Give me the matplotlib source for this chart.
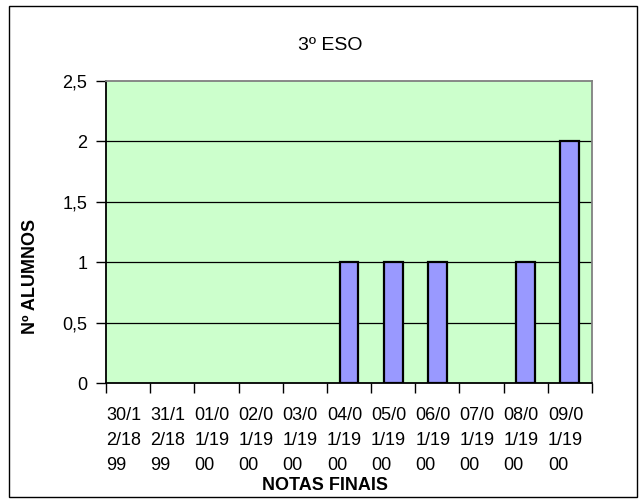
import numpy as np
import matplotlib.pyplot as plt
from matplotlib.patches import Rectangle

plt.rcParams['font.family'] = ['Liberation Sans', 'DejaVu Sans']

fechas = ['30/1\n2/18\n99', '31/1\n2/18\n99', '01/0\n1/19\n00', '02/0\n1/19\n00',
          '03/0\n1/19\n00', '04/0\n1/19\n00', '05/0\n1/19\n00', '06/0\n1/19\n00',
          '07/0\n1/19\n00', '08/0\n1/19\n00', '09/0\n1/19\n00']
alumnos = [0, 0, 0, 0, 0, 1, 1, 1, 0, 1, 2]
yticks = [0, 0.5, 1, 1.5, 2, 2.5]
ylabels = ['0', '0,5', '1', '1,5', '2', '2,5']

W, H = 643, 503
fig = plt.figure(figsize=(W/100, H/100), dpi=100)
fig.patches.append(Rectangle((9/W, 6/H), 628/W, 491/H, transform=fig.transFigure,
                             fill=False, edgecolor='black', linewidth=1))

ax = fig.add_axes([106/W, (H-383)/H, 486/W, 302/H])
ax.set_facecolor('#CCFFCC')
x = np.arange(len(fechas))
bordes = ['black' if v > 0 else 'none' for v in alumnos]
ax.bar(x, alumnos, width=0.43, color='#9999FF', edgecolor=bordes, linewidth=1.6, zorder=3)

ax.set_xlim(-0.5, len(fechas)-0.5)
ax.set_ylim(0, 2.5)
ax.set_yticks(yticks)
ax.set_yticklabels(ylabels, fontsize=13)
for v in yticks[1:-1]:
    ax.axhline(v, color='black', linewidth=0.9, zorder=1)

# marcas en los limites de cada categoria, etiquetas alineadas a la izquierda
ax.set_xticks(np.arange(-0.5, len(fechas)))
ax.set_xticklabels(fechas + [''], fontsize=13, linespacing=1.62,
                   ha='left', multialignment='left')
ax.tick_params(axis='x', length=7.5, width=1, direction='out', pad=10)
ax.tick_params(axis='y', length=7.5, width=1, direction='out', pad=6)

for s in ['left', 'bottom']:
    ax.spines[s].set_color('black')
    ax.spines[s].set_linewidth(1.3)
for s in ['top', 'right']:
    ax.spines[s].set_color('#808080')
    ax.spines[s].set_linewidth(1.3)

fig.text(330/W, 1-45/H, '3º ESO', ha='center', va='center', fontsize=14)
fig.text(325/W, 1-485/H, 'NOTAS FINAIS', ha='center', va='center', fontsize=13, fontweight='bold')
fig.text(31/W, 1-276/H, 'Nº ALUMNOS', ha='center', va='center', rotation=90,
         fontsize=13, fontweight='bold')

fig.savefig('out.png', dpi=100)
